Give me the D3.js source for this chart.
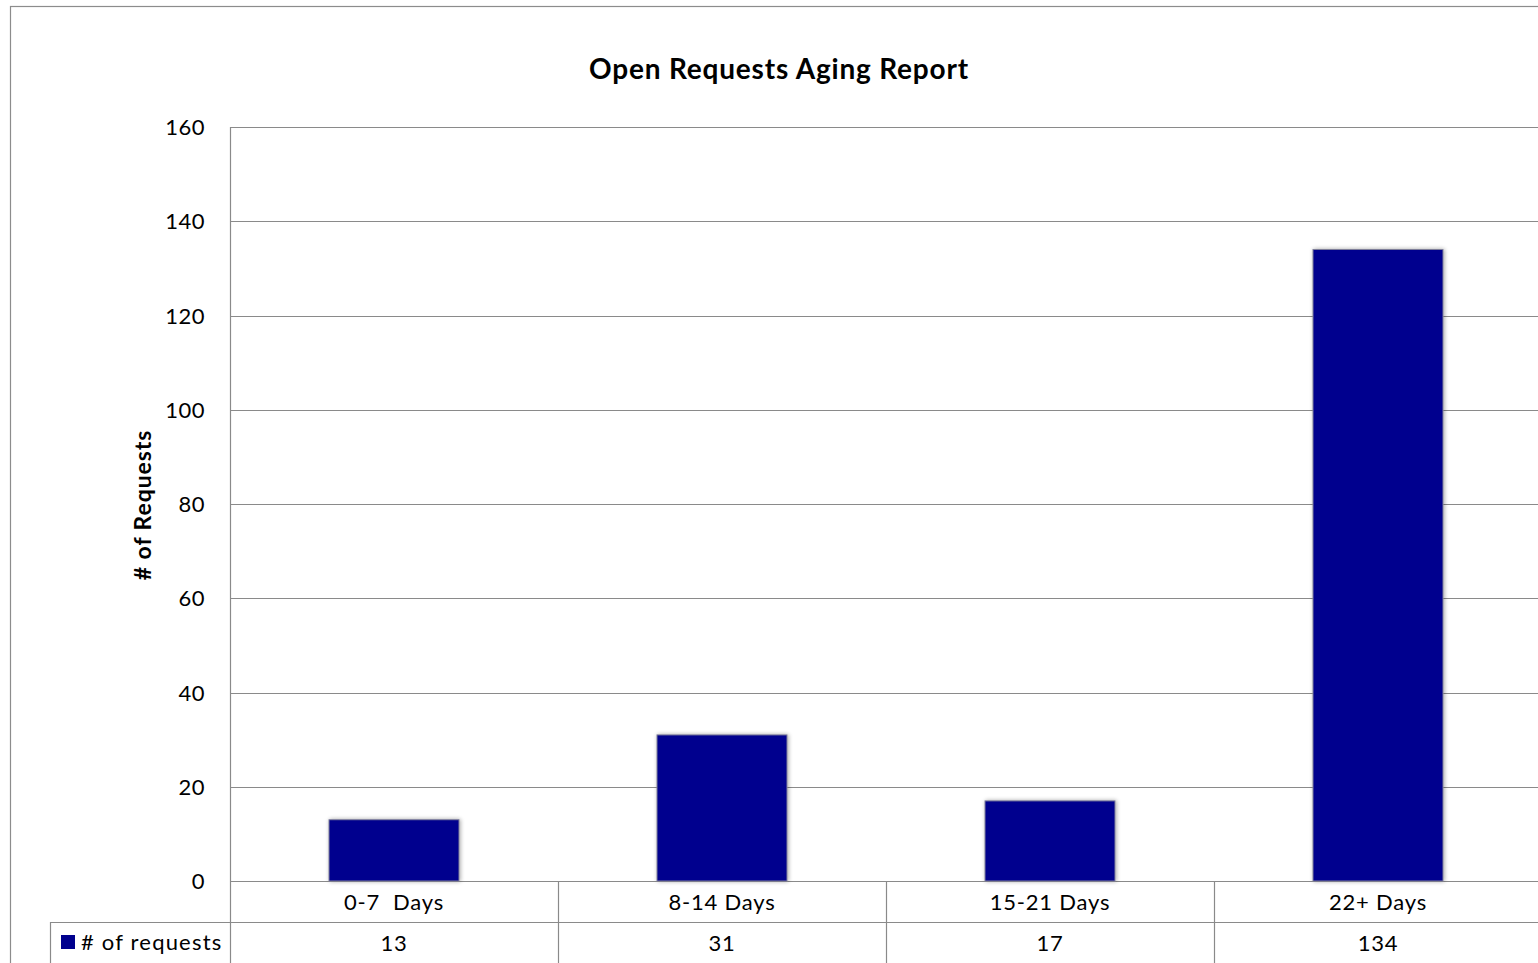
<!DOCTYPE html>
<html>
<head>
<meta charset="utf-8">
<script src="https://cdn.jsdelivr.net/npm/d3@7"></script>
<style>
  body { margin: 0; background: #fff; overflow: hidden; }
  svg text { font-family: Lato, "Open Sans", sans-serif; fill: #000; white-space: pre; }
  svg text.lbl { letter-spacing: 0.8px; }
</style>
</head>
<body>
<svg id="chart" width="1538" height="963"></svg>
<script>
'use strict';
const categories = ['0-7  Days', '8-14 Days', '15-21 Days', '22+ Days'];
const requests = [13, 31, 17, 134];
const yTicks = [0, 20, 40, 60, 80, 100, 120, 140, 160];
const seriesName = '# of requests';

(() => {
  const svg = d3.select('#chart');
  const left = 230, right = 1542, top = 127, bottom = 881;
  const rowH = 41;
  const gridColor = '#8a8a8a';
  const barColor = '#00008e';

  // chart frame
  svg.append('rect')
    .attr('x', 10.5).attr('y', 6.5)
    .attr('width', 1600).attr('height', 1000)
    .attr('fill', 'none').attr('stroke', '#8c8c8c').attr('stroke-width', 1.2);

  svg.append('text')
    .attr('x', 779).attr('y', 79)
    .attr('text-anchor', 'middle')
    .attr('font-size', 28).attr('font-weight', 'bold')
    .style('letter-spacing', '0.8px')
    .text('Open Requests Aging Report');

  var x = d3.scaleBand().domain(categories).range([left, right]).paddingInner(0).paddingOuter(0);
  var y = d3.scaleLinear().domain([0, 160]).range([bottom, top]);

  // gridlines
  svg.append('g').selectAll('line').data(yTicks).enter().append('line')
    .attr('x1', left).attr('x2', right)
    .attr('y1', d => Math.round(y(d)) + 0.5).attr('y2', d => Math.round(y(d)) + 0.5)
    .attr('stroke', gridColor).attr('stroke-width', 1.2);

  // y axis line (runs down through data table)
  svg.append('line')
    .attr('x1', left + 0.5).attr('x2', left + 0.5)
    .attr('y1', top).attr('y2', 963)
    .attr('stroke', gridColor).attr('stroke-width', 1.2);

  svg.append('g').selectAll('text').data(yTicks).enter().append('text')
    .attr('x', 205).attr('y', d => y(d) + 8)
    .attr('text-anchor', 'end').attr('font-size', 22)
    .style('letter-spacing', '0.5px')
    .text(d => d);

  svg.append('text')
    .attr('transform', 'translate(151,505) rotate(-90)')
    .attr('text-anchor', 'middle')
    .attr('font-size', 23).attr('font-weight', 'bold')
    .style('letter-spacing', '0.9px')
    .text('# of Requests');

  // bar shadow + bars
  var bw = 130;
  var defs = svg.append('defs');
  var f = defs.append('filter').attr('id', 'shadow').attr('x', '-10%').attr('y', '-10%').attr('width', '120%').attr('height', '120%');
  f.append('feGaussianBlur').attr('in', 'SourceAlpha').attr('stdDeviation', 2);
  f.append('feOffset').attr('dx', 1).attr('dy', 0).attr('result', 'b');
  f.append('feComponentTransfer').append('feFuncA').attr('type', 'linear').attr('slope', 0.35);
  var m = f.append('feMerge');
  m.append('feMergeNode');
  m.append('feMergeNode').attr('in', 'SourceGraphic');

  svg.append('g').selectAll('rect').data(requests).enter().append('rect')
    .attr('x', (d, i) => x(categories[i]) + x.bandwidth() / 2 - bw / 2)
    .attr('y', d => y(d))
    .attr('width', bw)
    .attr('height', d => bottom - y(d))
    .attr('fill', barColor)
    .attr('stroke', '#7f7f9a').attr('stroke-width', 1)
    .attr('filter', 'url(#shadow)');

  // data table
  var t = svg.append('g');
  t.append('line').attr('x1', 50).attr('x2', right)
    .attr('y1', bottom + rowH + 0.5).attr('y2', bottom + rowH + 0.5)
    .attr('stroke', gridColor).attr('stroke-width', 1.2);
  t.append('line').attr('x1', 50.5).attr('x2', 50.5)
    .attr('y1', bottom + rowH).attr('y2', 963)
    .attr('stroke', gridColor).attr('stroke-width', 1.2);
  t.selectAll('line.sep').data(categories.slice(1)).enter().append('line')
    .attr('class', 'sep')
    .attr('x1', d => Math.round(x(d)) + 0.5).attr('x2', d => Math.round(x(d)) + 0.5)
    .attr('y1', bottom).attr('y2', 963)
    .attr('stroke', gridColor).attr('stroke-width', 1.2);
  t.selectAll('text.cat').data(categories).enter().append('text')
    .attr('class', 'cat lbl')
    .attr('x', d => x(d) + x.bandwidth() / 2).attr('y', bottom + 29)
    .attr('text-anchor', 'middle').attr('font-size', 22)
    .text(d => d);
  t.selectAll('text.val').data(requests).enter().append('text')
    .attr('class', 'val lbl')
    .attr('x', (d, i) => x(categories[i]) + x.bandwidth() / 2).attr('y', bottom + rowH + 29)
    .attr('text-anchor', 'middle').attr('font-size', 22)
    .text(d => d);

  t.append('rect').attr('x', 61).attr('y', 935).attr('width', 14).attr('height', 14)
    .attr('fill', barColor);
  t.append('text').attr('class', 'lbl').attr('x', 81).attr('y', bottom + rowH + 28)
    .attr('font-size', 22).style('letter-spacing', '1.2px').text(seriesName);
})();
</script>
</body>
</html>
